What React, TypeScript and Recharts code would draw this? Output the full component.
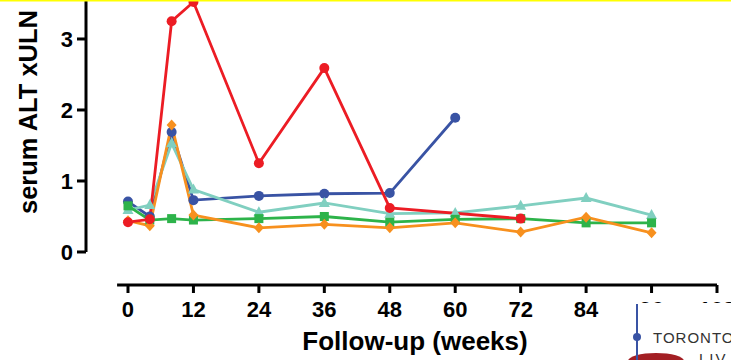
import { LineChart, Line, XAxis, YAxis, ReferenceLine } from "recharts";

const WEEKS_RED = [0, 4, 8, 12, 24, 36, 48, 72];
const ALT_RED = [0.42, 0.46, 3.25, 3.52, 1.25, 2.59, 0.62, 0.47];

const WEEKS_BLUE = [0, 4, 8, 12, 24, 36, 48, 60];
const ALT_BLUE = [0.71, 0.5, 1.69, 0.73, 0.79, 0.82, 0.83, 1.89];

const WEEKS_ALL = [0, 4, 8, 12, 24, 36, 48, 60, 72, 84, 96];
const ALT_TEAL = [0.59, 0.66, 1.53, 0.88, 0.56, 0.69, 0.54, 0.55, 0.65, 0.76, 0.52];
const ALT_GREEN = [0.65, 0.45, 0.47, 0.45, 0.47, 0.5, 0.42, 0.46, 0.47, 0.41, 0.41];
const ALT_ORANGE = [0.44, 0.37, 1.79, 0.52, 0.34, 0.39, 0.34, 0.41, 0.28, 0.49, 0.27];

const X_TICKS = [0, 12, 24, 36, 48, 60, 72, 84, 96, 108];
const Y_TICKS = [0, 1, 2, 3];

const X_MIN = -7.7;
const X_MAX = 108;
const Y_MIN = -0.465;
const Y_MAX = 3.549;

const RED = "#ec1c24";
const BLUE = "#3953a4";
const TEAL = "#80cfc0";
const GREEN = "#2db34a";
const ORANGE = "#f7901e";

const FONT = "'Liberation Sans', Arial, Helvetica, sans-serif";

const toRows = (weeks: number[], vals: number[]) =>
  weeks.map((week, i) => ({ week, alt: vals[i] }));

const redData = toRows(WEEKS_RED, ALT_RED);
const blueData = toRows(WEEKS_BLUE, ALT_BLUE);
const tealData = toRows(WEEKS_ALL, ALT_TEAL);
const greenData = toRows(WEEKS_ALL, ALT_GREEN);
const orangeData = toRows(WEEKS_ALL, ALT_ORANGE);

type DotProps = { cx?: number; cy?: number; index?: number };

const circleDot = (color: string) => (p: DotProps) =>
  <circle key={`c-${color}-${p.index}`} cx={p.cx} cy={p.cy} r={5} fill={color} />;

const squareDot = (color: string) => (p: DotProps) =>
  <rect key={`s-${p.index}`} x={(p.cx ?? 0) - 4.5} y={(p.cy ?? 0) - 4.5} width={9} height={9} fill={color} />;

const triangleDot = (color: string) => (p: DotProps) => {
  const x = p.cx ?? 0;
  const y = p.cy ?? 0;
  return (
    <polygon
      key={`t-${p.index}`}
      points={`${x},${y - 6} ${x + 5.5},${y + 4} ${x - 5.5},${y + 4}`}
      fill={color}
    />
  );
};

const diamondDot = (color: string) => (p: DotProps) => {
  const x = p.cx ?? 0;
  const y = p.cy ?? 0;
  return (
    <polygon
      key={`d-${p.index}`}
      points={`${x},${y - 5.5} ${x + 5},${y} ${x},${y + 5.5} ${x - 5},${y}`}
      fill={color}
    />
  );
};

const tickStyle = { fill: "#000", fontSize: 22, fontWeight: "bold", fontFamily: FONT };
const tickLineStyle = { stroke: "#000", strokeWidth: 3 };

export default function App() {
  return (
    <div style={{ position: "absolute", left: 0, top: 0, width: 731, height: 360, background: "#fff" }}>
      <LineChart width={731} height={360} margin={{ top: 0, right: 14, bottom: 45, left: 26 }}>
        <XAxis
          type="number"
          dataKey="week"
          domain={[X_MIN, X_MAX]}
          allowDataOverflow
          ticks={X_TICKS}
          interval={0}
          axisLine={false}
          tickLine={tickLineStyle}
          tickSize={8}
          tickMargin={8}
          tick={tickStyle}
          height={30}
          label={{
            content: () => (
              <text x={415} y={350} textAnchor="middle" fontSize={26} fontWeight="bold" fontFamily={FONT} fill="#000">
                Follow-up (weeks)
              </text>
            ),
          }}
        />
        <YAxis
          type="number"
          dataKey="alt"
          domain={[Y_MIN, Y_MAX]}
          allowDataOverflow
          ticks={Y_TICKS}
          interval={0}
          axisLine={false}
          tickLine={tickLineStyle}
          tickSize={9}
          tickMargin={4}
          tick={tickStyle}
          width={60}
          label={{
            content: () => (
              <text
                x={37}
                y={112}
                transform="rotate(-90 37 112)"
                textAnchor="middle"
                fontSize={25.5}
                fontWeight="bold"
                fontFamily={FONT}
                fill="#000"
              >
                serum ALT xULN
              </text>
            ),
          }}
        />
        <ReferenceLine
          segment={[{ x: X_MIN, y: 0 }, { x: X_MIN, y: Y_MAX }]}
          stroke="#000"
          strokeWidth={3}
          ifOverflow="visible"
        />
        <ReferenceLine
          segment={[{ x: -2, y: Y_MIN }, { x: X_MAX, y: Y_MIN }]}
          stroke="#000"
          strokeWidth={3}
          ifOverflow="visible"
        />
        <Line data={blueData} dataKey="alt" stroke={BLUE} strokeWidth={2.8} dot={circleDot(BLUE)} isAnimationActive={false} />
        <Line data={tealData} dataKey="alt" stroke={TEAL} strokeWidth={2.8} dot={triangleDot(TEAL)} isAnimationActive={false} />
        <Line data={greenData} dataKey="alt" stroke={GREEN} strokeWidth={2.8} dot={squareDot(GREEN)} isAnimationActive={false} />
        <Line data={orangeData} dataKey="alt" stroke={ORANGE} strokeWidth={2.8} dot={diamondDot(ORANGE)} isAnimationActive={false} />
        <Line data={redData} dataKey="alt" stroke={RED} strokeWidth={2.8} dot={circleDot(RED)} isAnimationActive={false} />
      </LineChart>

      {/* top border strip and logo overlay */}
      <svg width={731} height={360} style={{ position: "absolute", left: 0, top: 0, pointerEvents: "none" }}>
        <rect x={0} y={0} width={731} height={1.5} fill="#ffff00" />
        <rect x={629} y={303} width={102} height={57} fill="#fff" />
        <ellipse cx={656} cy={361} rx={28} ry={8} fill="#a31f24" />
        <line x1={637} y1={304} x2={637} y2={360} stroke={BLUE} strokeWidth={2} />
        <circle cx={637} cy={337} r={4} fill={BLUE} />
        <text x={653} y={343} fontSize={15} fontFamily={FONT} fill="#333" letterSpacing={1}>
          TORONTO
        </text>
        <text x={699} y={364} fontSize={15} fontFamily={FONT} fill="#333" letterSpacing={2}>
          LIV
        </text>
      </svg>
    </div>
  );
}
